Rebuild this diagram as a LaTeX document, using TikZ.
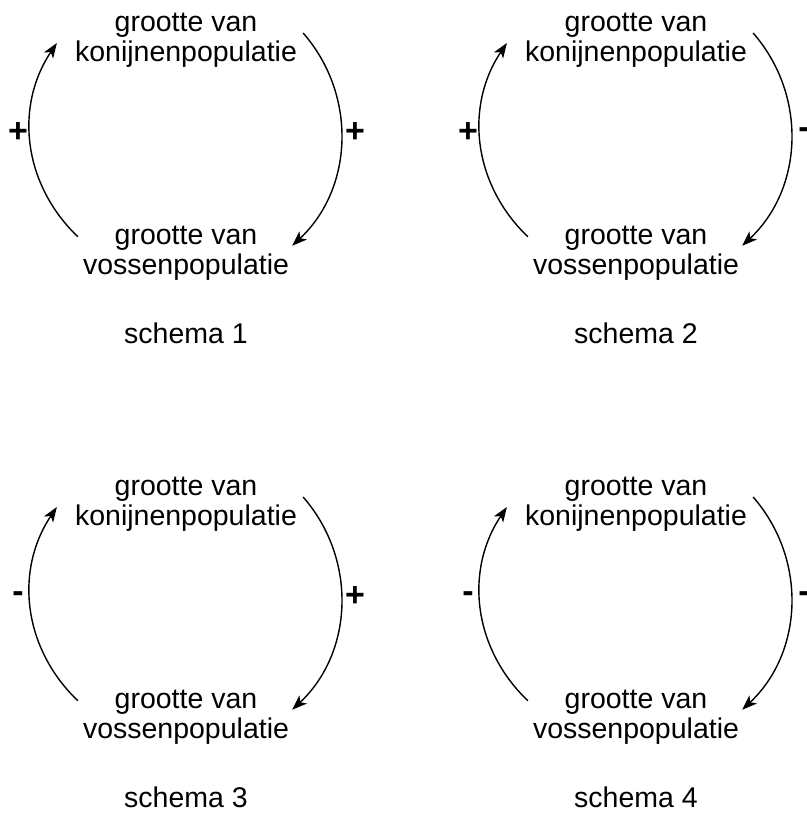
\documentclass[tikz,border=0pt]{standalone}
\usepackage{fontspec}
\setmainfont{Liberation Sans}
\usetikzlibrary{positioning, arrows.meta}

\begin{document}
\begin{tikzpicture}[x=1pt, y=1pt, node distance=159pt,
    pop/.style={align=center, inner sep=0pt, font=\fontsize{28.5}{30}\selectfont},
    signnode/.style={inner sep=0pt, font=\fontsize{34}{36}\selectfont\bfseries},
    fb/.style={-{Stealth[length=15pt, width=11pt, inset=4pt]}, line width=1.4pt}]
    \useasboundingbox (0,0) rectangle (806,814);

    % schema 1
    \node[pop] (kon1) at (186,774) {grootte van\\konijnenpopulatie};
    \node[pop, below=of kon1] (vos1) {grootte van\\vossenpopulatie};
    \node[pop, below=42pt of vos1] (sch1) {schema 1};
    \draw[fb] ([xshift=-5pt, yshift=17pt]vos1.west) to[bend left=40] ([xshift=-18pt, yshift=-3pt]kon1.west);
    \draw[fb] ([xshift=6pt, yshift=7pt]kon1.east) to[bend left=44] ([xshift=3pt, yshift=8pt]vos1.east);
    \node[signnode] (s1l) at (18,681) {+};
    \node[signnode] (s1r) at (355,681) {+};

    % schema 2
    \node[pop] (kon2) at (636,774) {grootte van\\konijnenpopulatie};
    \node[pop, below=of kon2] (vos2) {grootte van\\vossenpopulatie};
    \node[pop, below=42pt of vos2] (sch2) {schema 2};
    \draw[fb] ([xshift=-5pt, yshift=17pt]vos2.west) to[bend left=40] ([xshift=-18pt, yshift=-3pt]kon2.west);
    \draw[fb] ([xshift=6pt, yshift=7pt]kon2.east) to[bend left=44] ([xshift=3pt, yshift=8pt]vos2.east);
    \node[signnode] (s2l) at (468,681) {+};
    \node[signnode] (s2r) at (804,681) {-};

    % schema 3
    \node[pop] (kon3) at (186,310) {grootte van\\konijnenpopulatie};
    \node[pop, below=of kon3] (vos3) {grootte van\\vossenpopulatie};
    \node[pop, below=42pt of vos3] (sch3) {schema 3};
    \draw[fb] ([xshift=-5pt, yshift=17pt]vos3.west) to[bend left=40] ([xshift=-18pt, yshift=-3pt]kon3.west);
    \draw[fb] ([xshift=6pt, yshift=7pt]kon3.east) to[bend left=44] ([xshift=3pt, yshift=8pt]vos3.east);
    \node[signnode] (s3l) at (18,217) {-};
    \node[signnode] (s3r) at (355,217) {+};

    % schema 4
    \node[pop] (kon4) at (636,310) {grootte van\\konijnenpopulatie};
    \node[pop, below=of kon4] (vos4) {grootte van\\vossenpopulatie};
    \node[pop, below=42pt of vos4] (sch4) {schema 4};
    \draw[fb] ([xshift=-5pt, yshift=17pt]vos4.west) to[bend left=40] ([xshift=-18pt, yshift=-3pt]kon4.west);
    \draw[fb] ([xshift=6pt, yshift=7pt]kon4.east) to[bend left=44] ([xshift=3pt, yshift=8pt]vos4.east);
    \node[signnode] (s4l) at (468,217) {-};
    \node[signnode] (s4r) at (804,217) {-};
\end{tikzpicture}
\end{document}
